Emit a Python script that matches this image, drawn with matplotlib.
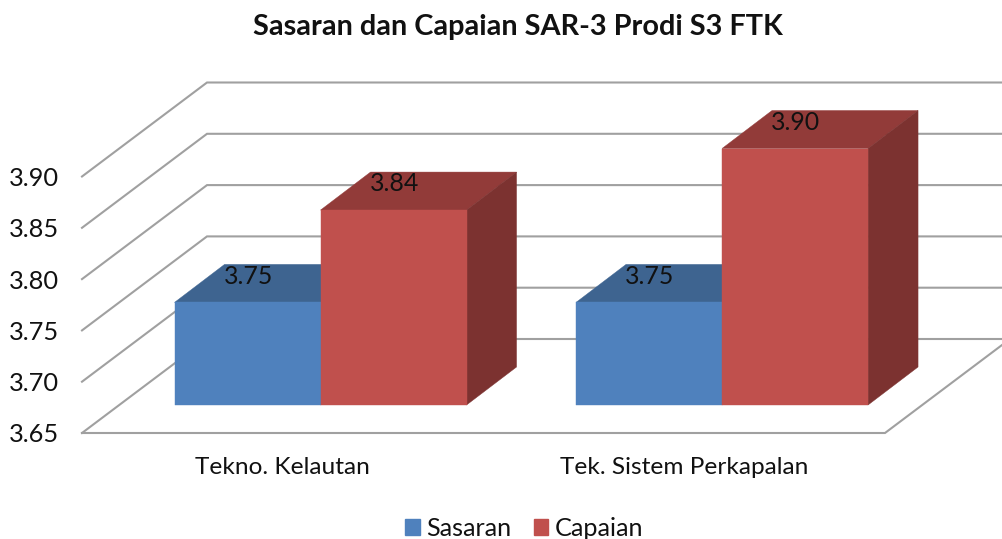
import matplotlib
matplotlib.use('Agg')
import matplotlib.pyplot as plt
from matplotlib.patches import Polygon, Patch

categories = ['Tekno. Kelautan', 'Tek. Sistem Perkapalan']
sasaran = [3.75, 3.75]
capaian = [3.84, 3.90]
y_ticks = [3.65, 3.70, 3.75, 3.80, 3.85, 3.90]

W, H = 1003, 539
# front plane of the 3d box in pixels
LEFT, RIGHT, BOTTOM, TOP = 82, 885, 433, 176.5
YMIN, YMAX = 3.65, 3.90
PX_X = 2 / (RIGHT - LEFT)
PX_Y = (YMAX - YMIN) / (BOTTOM - TOP)

# depth offset of the back wall and of the bars
WALL_DX, WALL_DY = 125 * PX_X, 94 * PX_Y
BAR_SHIFT_X, BAR_SHIFT_Y = 37.8 * PX_X, 28 * PX_Y
BAR_DX, BAR_DY = 50 * PX_X, 38 * PX_Y
BAR_W = 146 * PX_X

BLUE = ('#4F81BD', '#3E6490', '#345478')
RED = ('#C0504D', '#923B39', '#7C3230')
GRID = '#A0A0A0'

plt.rcParams['font.family'] = ['Lato', 'DejaVu Sans']

fig = plt.figure(figsize=(W / 100, H / 100), dpi=100)
ax = fig.add_axes([LEFT / W, 1 - BOTTOM / H, (RIGHT - LEFT) / W, (BOTTOM - TOP) / H])
ax.set_xlim(0, 2)
ax.set_ylim(YMIN, YMAX)
for s in ax.spines.values():
    s.set_visible(False)
ax.patch.set_visible(False)

ax.set_yticks(y_ticks)
ax.set_yticklabels(['%.2f' % v for v in y_ticks], fontsize=18.3, color='#111111')
ax.tick_params(axis='y', length=0, pad=16.5)
ax.set_xticks([0.5, 1.5])
ax.set_xticklabels(categories, fontsize=17.6, color='#111111')
ax.tick_params(axis='x', length=0, pad=17)

# walls
for v in y_ticks:
    ax.plot([0, WALL_DX, 2 + WALL_DX], [v, v + WALL_DY, v + WALL_DY], color=GRID, lw=1.5,
            clip_on=False, zorder=1, solid_joinstyle='miter')
ax.plot([0, 2, 2 + WALL_DX], [YMIN, YMIN, YMIN + WALL_DY], color=GRID, lw=1.5, clip_on=False,
        zorder=1, solid_joinstyle='miter')


def box(x, value, colors, z):
    y0 = YMIN + BAR_SHIFT_Y
    y1 = value + BAR_SHIFT_Y
    x0 = x + BAR_SHIFT_X
    x1 = x0 + BAR_W
    front, top, side = colors
    ax.add_patch(Polygon([(x0, y1), (x0 + BAR_DX, y1 + BAR_DY), (x1 + BAR_DX, y1 + BAR_DY), (x1, y1)],
                         fc=top, ec=top, lw=0.3, clip_on=False, zorder=z))
    ax.add_patch(Polygon([(x1, y0), (x1 + BAR_DX, y0 + BAR_DY), (x1 + BAR_DX, y1 + BAR_DY), (x1, y1)],
                         fc=side, ec=side, lw=0.3, clip_on=False, zorder=z))
    ax.add_patch(Polygon([(x0, y0), (x1, y0), (x1, y1), (x0, y1)],
                         fc=front, ec=front, lw=0.3, clip_on=False, zorder=z + 0.1))
    ax.annotate('%.2f' % value, (x0 + BAR_W / 2, y1), xytext=(0.5, 19), textcoords='offset points',
                ha='center', va='center', fontsize=17.9, color='#111111', zorder=10, annotation_clip=False)


# group start chosen so both pairs stay centred on the category
for i in range(len(categories)):
    start = i + 0.5 - BAR_W
    box(start, sasaran[i], BLUE, 3 + i * 2)
    box(start + BAR_W, capaian[i], RED, 4 + i * 2)

fig.text(518 / W, 1 - 27 / H, 'Sasaran dan Capaian SAR-3 Prodi S3 FTK', ha='center', va='center',
         fontsize=20.8, fontweight='bold', color='#111111')

fig.legend(handles=[Patch(color=BLUE[0], label='Sasaran'), Patch(color=RED[0], label='Capaian')],
           loc='center', bbox_to_anchor=(524 / W, 1 - 528 / H), ncol=2, frameon=False, fontsize=18.1,
           handlelength=0.58, handleheight=0.6, handletextpad=0.25, columnspacing=0.9,
           labelcolor='#111111')

fig.savefig('out.png', dpi=100)
